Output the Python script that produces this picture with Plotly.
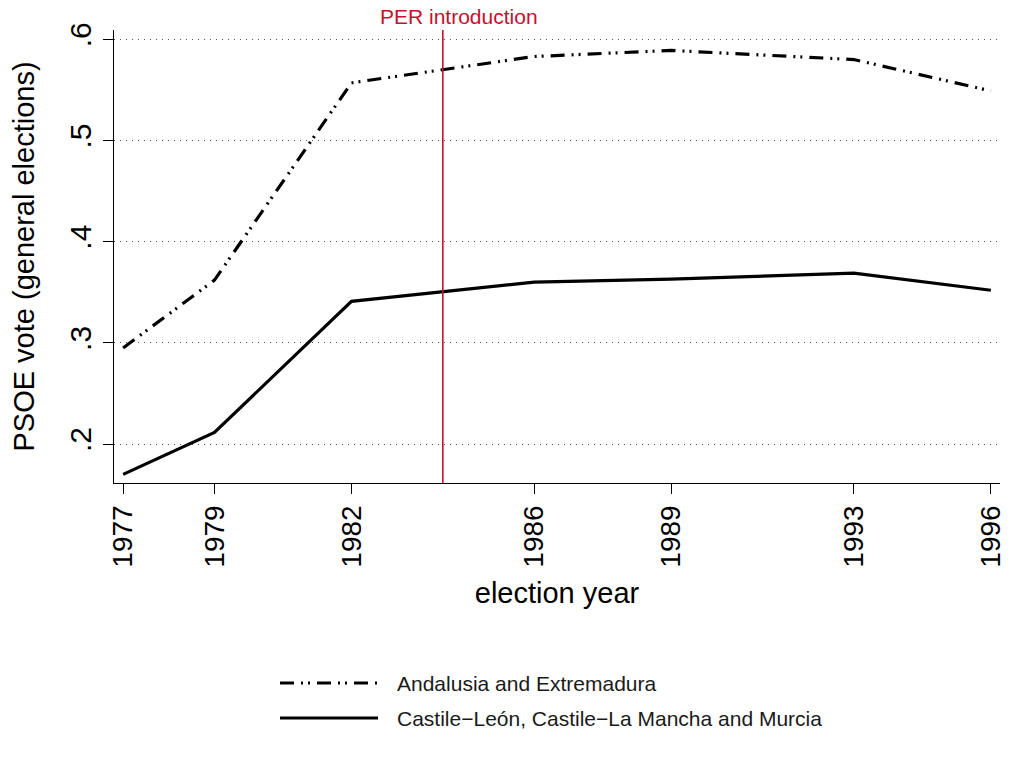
import plotly.graph_objects as go

years = [1977, 1979, 1982, 1986, 1989, 1993, 1996]
andalusia = [0.295, 0.362, 0.557, 0.583, 0.589, 0.580, 0.549]
castile = [0.170, 0.2115, 0.341, 0.360, 0.363, 0.369, 0.352]
series_names = ["Andalusia and Extremadura", "Castile\u2212León, Castile\u2212La Mancha and Murcia"]
y_ticks = [0.2, 0.3, 0.4, 0.5, 0.6]
y_tick_labels = [".2", ".3", ".4", ".5", ".6"]
per_year = 1984
per_label = "PER introduction"

FONT = "Liberation Sans, Arial, Helvetica, sans-serif"
RED = "#C8102E"
DASH = "14px,7px,2px,5px,2px,7px"

fig = go.Figure()
fig.add_trace(go.Scatter(x=years, y=andalusia, mode="lines", name=series_names[0],
                         line=dict(color="black", width=3.2, dash=DASH), showlegend=False))
fig.add_trace(go.Scatter(x=years, y=castile, mode="lines", name=series_names[1],
                         line=dict(color="black", width=3.2), showlegend=False))

# PER introduction line
fig.add_shape(type="line", xref="x", yref="paper", x0=per_year, x1=per_year, y0=0, y1=1,
              line=dict(color=RED, width=1.6))
fig.add_annotation(x=per_year, xref="x", y=1.0287, yref="paper", text=per_label,
                   showarrow=False, xshift=16, yanchor="middle",
                   font=dict(family=FONT, size=21, color=RED))

# Manual legend (long line samples)
PW, PH, L, B = 886, 453, 114, 483
def px(x):
    return (x - L) / PW
def py(y):
    return (B - y) / PH
legend_rows = [(683, DASH), (718, "solid")]
for (yy, dash), name in zip(legend_rows, series_names):
    fig.add_shape(type="line", xref="paper", yref="paper", x0=px(280), x1=px(378),
                  y0=py(yy), y1=py(yy), line=dict(color="black", width=3.2, dash=dash))
    fig.add_annotation(xref="paper", yref="paper", x=px(395), y=py(yy), text=name,
                       showarrow=False, xanchor="left", yanchor="middle",
                       font=dict(family=FONT, size=21, color="#1a1a1a"))

fig.update_layout(
    width=1013, height=767,
    margin=dict(l=114, r=13, t=30, b=284, autoexpand=False),
    paper_bgcolor="white", plot_bgcolor="white",
    font=dict(family=FONT, color="black"),
    showlegend=False,
)
fig.update_xaxes(
    range=[1976.8, 1996.2], tickvals=years, ticktext=[str(y) for y in years],
    tickangle=-90, tickfont=dict(size=28, family=FONT),
    ticks="outside", ticklen=10, tickwidth=1.3, tickcolor="black",
    showline=True, linecolor="black", linewidth=1.3, showgrid=False, zeroline=False,
    title=dict(text="election year", font=dict(size=29, family=FONT), standoff=16),
    automargin=False,
)
fig.update_yaxes(
    range=[0.1615, 0.6092], tickvals=y_ticks, ticktext=y_tick_labels,
    tickangle=-90, tickfont=dict(size=30, family=FONT),
    ticks="outside", ticklen=10, tickwidth=1.3, tickcolor="black",
    showline=True, linecolor="black", linewidth=1.3,
    showgrid=True, gridcolor="#555555", gridwidth=1, griddash="1px,5px", zeroline=False,
    title=dict(text="PSOE vote (general elections)", font=dict(size=29, family=FONT), standoff=20),
    automargin=False,
)
fig.write_html("out.html", config={"displayModeBar": False},
               post_script="document.body.style.margin='0px';")
